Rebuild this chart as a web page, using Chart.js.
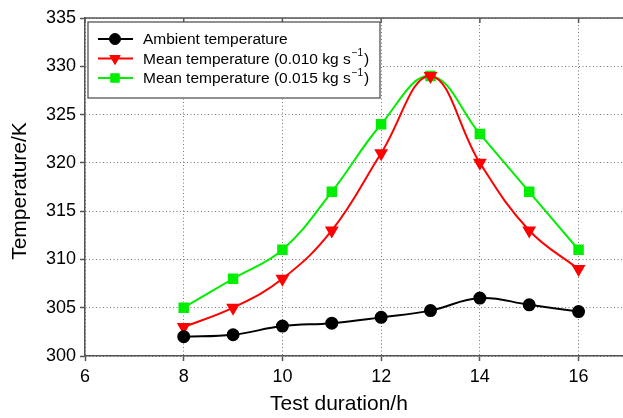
<!DOCTYPE html>
<html>
<head>
<meta charset="utf-8">
<script src="https://cdn.jsdelivr.net/npm/chart.js@4"></script>
<style>
  html, body { margin: 0; padding: 0; background: #fff; }
  #wrap { width: 623px; height: 418px; }
</style>
</head>
<body>
<div id="wrap"><canvas id="chart"></canvas></div>
<script>
const hours = [8, 9, 10, 11, 12, 13, 14, 15, 16];
const ambient = [302, 302.2, 303.1, 303.4, 304, 304.7, 306, 305.3, 304.6];
const mean010 = [303, 305, 308, 313, 321, 329, 320, 313, 309];
const mean015 = [305, 308, 311, 317, 324, 329, 323, 317, 311];
const seriesNames = ['Ambient temperature', 'Mean temperature (0.010 kg s', 'Mean temperature (0.015 kg s'];
const superscripts = ['', '\u22121', '\u22121'];
const xTitle = 'Test duration/h';
const yTitle = 'Temperature/K';

const FONT = '"Liberation Sans", Arial, sans-serif';

function pts(ys) {
  return hours.map((h, i) => ({ x: h, y: ys[i] }));
}

// legend box, top frame and axis titles drawn by hand
const framePlugin = {
  id: 'frame',
  afterDraw(chart) {
    const c = chart.ctx;
    const a = chart.chartArea;
    c.save();
    c.strokeStyle = '#555';
    c.lineWidth = 1.5;
    c.beginPath();
    c.moveTo(a.left, a.top);
    c.lineTo(a.right, a.top);
    c.stroke();
    // top ticks
    const xs = chart.scales.x;
    xs.ticks.forEach(t => {
      const px = xs.getPixelForValue(t.value);
      c.beginPath();
      c.moveTo(px, a.top);
      c.lineTo(px, a.top + 5);
      c.stroke();
    });

    // axis titles (sit a bit off the chart-area centre in the original)
    c.fillStyle = '#000';
    c.font = '21px ' + FONT;
    c.textAlign = 'center';
    c.textBaseline = 'middle';
    c.fillText(xTitle, 339, 404);
    c.save();
    c.translate(20, 191);
    c.rotate(-Math.PI / 2);
    c.fillText(yTitle, 0, 0);
    c.restore();

    // legend
    const bx = a.left + 3, by = a.top + 4, bw = 292, bh = 76;
    c.fillStyle = '#fff';
    c.fillRect(bx, by, bw, bh);
    c.strokeStyle = '#555';
    c.lineWidth = 1.3;
    c.strokeRect(bx, by, bw, bh);
    chart.data.datasets.forEach((ds, i) => {
      const y = by + 17 + i * 19.5;
      c.strokeStyle = ds.borderColor;
      c.lineWidth = 2;
      c.beginPath();
      c.moveTo(bx + 10, y);
      c.lineTo(bx + 45, y);
      c.stroke();
      c.fillStyle = ds.pointBackgroundColor;
      c.strokeStyle = ds.pointBackgroundColor;
      c.lineWidth = 1;
      Chart.helpers.drawPoint(c, {
        pointStyle: ds.pointStyle,
        radius: ds.pointRadius,
        rotation: ds.rotation || 0,
        borderWidth: 1
      }, bx + 27, y);
      c.fillStyle = '#000';
      c.font = '15.5px ' + FONT;
      c.textBaseline = 'middle';
      c.textAlign = 'left';
      const name = seriesNames[i];
      c.fillText(name, bx + 55, y + 1);
      if (superscripts[i]) {
        let w = c.measureText(name).width;
        c.font = '10px ' + FONT;
        c.fillText(superscripts[i], bx + 55 + w + 1, y - 5);
        w += c.measureText(superscripts[i]).width + 2;
        c.font = '15.5px ' + FONT;
        c.fillText(')', bx + 55 + w, y + 1);
      }
    });
    c.restore();
  }
};

const gridOpts = {
  color: '#777',
  lineWidth: 1,
  tickBorderDash: [],
  tickColor: '#555',
  tickLength: 5,
  tickWidth: 1.5
};

new Chart(document.getElementById('chart'), {
  type: 'scatter',
  data: {
    datasets: [
      {
        label: seriesNames[0],
        data: pts(ambient),
        borderColor: '#000',
        backgroundColor: '#000',
        pointBackgroundColor: '#000',
        pointBorderColor: '#000',
        pointStyle: 'circle',
        pointRadius: 5.5,
        showLine: true,
        borderWidth: 2,
        tension: 0.4
      },
      {
        label: seriesNames[1],
        data: pts(mean010),
        borderColor: '#ff0000',
        backgroundColor: '#ff0000',
        pointBackgroundColor: '#ff0000',
        pointBorderColor: '#ff0000',
        pointStyle: 'triangle',
        rotation: 180,
        pointRadius: 6,
        showLine: true,
        borderWidth: 2,
        tension: 0.4
      },
      {
        label: seriesNames[2],
        data: pts(mean015),
        borderColor: '#00ee00',
        backgroundColor: '#00ee00',
        pointBackgroundColor: '#00ee00',
        pointBorderColor: '#00ee00',
        pointStyle: 'rect',
        pointRadius: 6,
        showLine: true,
        borderWidth: 2,
        tension: 0.4
      }
    ]
  },
  options: {
    responsive: true,
    maintainAspectRatio: false,
    animation: false,
    layout: { autoPadding: false, padding: { top: 18, right: 0, left: 0, bottom: 0 } },
    plugins: { legend: { display: false }, tooltip: { enabled: false } },
    scales: {
      x: {
        type: 'linear',
        min: 6,
        max: 16.9,
        ticks: {
          stepSize: 2,
          includeBounds: false,
          color: '#000',
          font: { family: FONT, size: 18 },
          padding: 5
        },
        afterBuildTicks(s) {
          s.ticks = s.ticks.filter(t => t.value % 2 === 0);
        },
        grid: gridOpts,
        border: { color: '#555', width: 1.5, dash: [1, 2.5] },
        afterFit(s) {
          s.height = 62;
          s.paddingLeft = 0;
          s.paddingRight = 0;
        }
      },
      y: {
        min: 300,
        max: 335,
        ticks: {
          stepSize: 5,
          color: '#000',
          font: { family: FONT, size: 18 },
          padding: 4
        },
        grid: gridOpts,
        border: { color: '#555', width: 1.5, dash: [1, 2.5] },
        afterFit(s) {
          s.width = 85;
          s.paddingTop = 0;
          s.paddingBottom = 0;
        }
      }
    }
  },
  plugins: [framePlugin]
});
</script>
</body>
</html>
